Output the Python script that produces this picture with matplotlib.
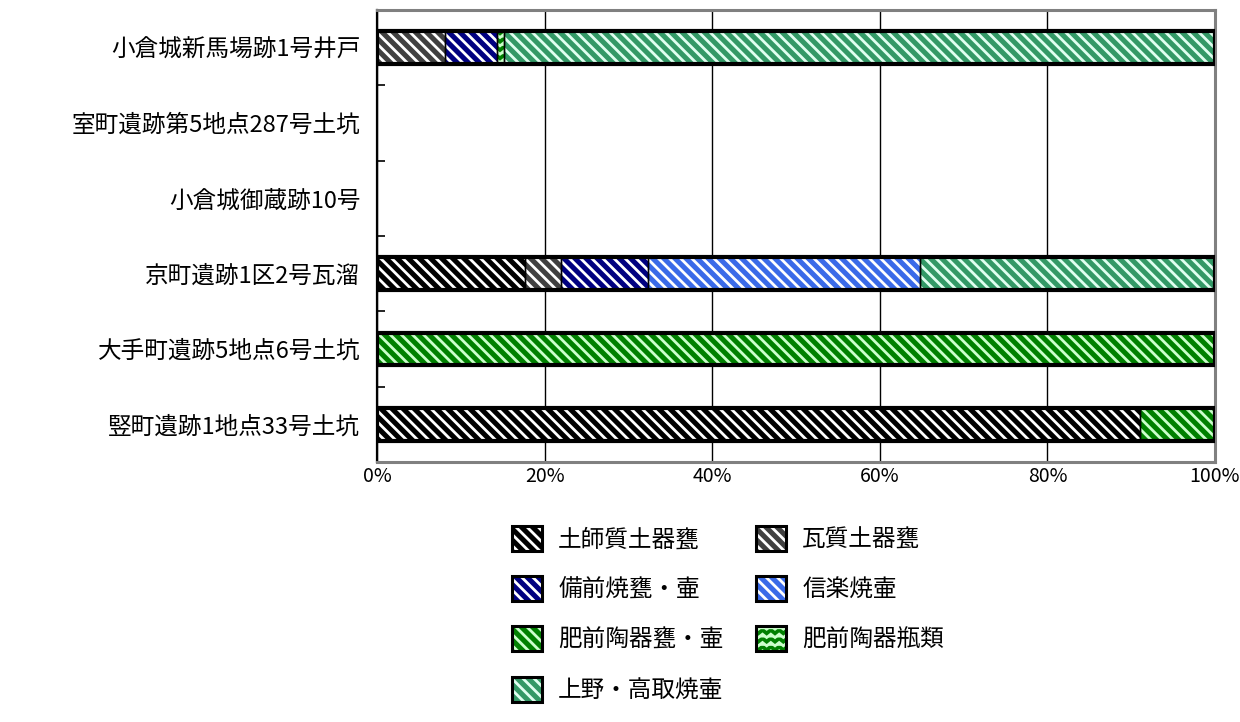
import numpy as np
import matplotlib
matplotlib.use('Agg')
import matplotlib.pyplot as plt
import matplotlib.hatch as mhatch
from matplotlib.path import Path
from matplotlib.patches import Patch
from matplotlib.legend_handler import HandlerTuple
import warnings

warnings.filterwarnings('ignore')

# データ（％）
sites = ['小倉城新馬場跡1号井戸', '室町遺跡第5地点287号土坑', '小倉城御蔵跡10号',
         '京町遺跡1区2号瓦溜', '大手町遺跡5地点6号土坑', '竪町遺跡1地点33号土坑']
categories = ['土師質土器甕', '瓦質土器甕', '備前焼甕・壷', '信楽焼壷',
              '肥前陶器甕・壷', '肥前陶器瓶類', '上野・高取焼壷']
hajishitsu = [0, 0, 0, 17.7, 0, 91.1]
gashitsu = [8.1, 0, 0, 4.2, 0, 0]
bizen = [6.2, 0, 0, 10.4, 0, 0]
shigaraki = [0, 0, 0, 32.5, 0, 0]
hizen_kame = [0, 0, 0, 0, 100, 8.9]
hizen_bin = [0.8, 0, 0, 0, 0, 0]
agano = [84.9, 0, 0, 35.2, 0, 0]
series = [hajishitsu, gashitsu, bizen, shigaraki, hizen_kame, hizen_bin, agano]

face_colors = ['#000000', '#404040', '#000080', '#3a6ae8', '#008000', '#008000', '#339966']
hatch_colors = ['#ffffff', '#ffffff', '#ffffff', '#ffffff', '#ccffcc', '#ccffcc', '#e0fff0']
diag = '\\' * 3
hatches = [diag, diag, diag, diag, diag, '~~', diag]


# 波線ハッチ（肥前陶器瓶類用）
class WaveHatch(mhatch.HatchPatternBase):
    def __init__(self, hatch, density):
        self.num_rows = int(hatch.count('~') * density)
        self.teeth = max(self.num_rows, 1)
        self.per_row = 2 * self.teeth + 1
        self.num_vertices = self.num_rows * self.per_row

    def set_vertices_and_codes(self, vertices, codes):
        steps, stepsize = np.linspace(0.0, 1.0, self.num_rows, False, retstep=True)
        steps += stepsize / 2.
        xs = np.linspace(0.0, 1.0, self.per_row)
        amp = np.where(np.arange(self.per_row) % 2 == 1, stepsize * 0.4, 0.0)
        for i, yy in enumerate(steps):
            s = i * self.per_row
            vertices[s:s + self.per_row, 0] = xs
            vertices[s:s + self.per_row, 1] = yy + amp
            codes[s] = Path.MOVETO
            codes[s + 1:s + self.per_row] = Path.LINETO


mhatch._hatch_types.append(WaveHatch)

plt.rcParams['font.family'] = ['Noto Sans CJK JP', 'DejaVu Sans']
plt.rcParams['hatch.linewidth'] = 2.0

fig = plt.figure(figsize=(12.4, 7.22), dpi=100)
ax = fig.add_axes([377 / 1240, 1 - 462 / 722, 838 / 1240, 452 / 722])

y = np.arange(len(sites))
bar_h = 0.43
left = np.zeros(len(sites))
for vals, fc, hc, h in zip(series, face_colors, hatch_colors, hatches):
    vals = np.array(vals, dtype=float)
    m = vals > 0
    ax.barh(y[m], vals[m], left=left[m], height=bar_h, color=fc, edgecolor=hc,
            linewidth=0, hatch=h, zorder=3)
    ax.barh(y[m], vals[m], left=left[m], height=bar_h, fill=False, edgecolor='black',
            linewidth=1.0, zorder=4)
    left += vals

# 外枠
totals = np.sum(series, axis=0)
m = totals > 0
ax.barh(y[m], totals[m], height=bar_h, fill=False, edgecolor='black', linewidth=3, zorder=5)

ax.set_xlim(0, 100)
ax.set_ylim(len(sites) - 0.5, -0.5)
ax.set_xticks([0, 20, 40, 60, 80, 100])
ax.set_xticklabels(['0%', '20%', '40%', '60%', '80%', '100%'], fontsize=14)
ax.set_yticks(y)
ax.set_yticklabels(sites, fontsize=17)
ax.set_yticks(np.arange(0.5, len(sites) - 1, 1), minor=True)
ax.tick_params(axis='y', which='major', length=0, pad=12)
ax.tick_params(axis='y', which='minor', direction='in', length=6, width=1.2, color='black')
ax.tick_params(axis='x', length=0, pad=3)
ax.grid(axis='x', color='black', linewidth=1.0, zorder=0)
for side in ['top', 'right', 'bottom']:
    ax.spines[side].set_color('#808080')
    ax.spines[side].set_linewidth(2.2)
ax.spines['left'].set_color('black')
ax.spines['left'].set_linewidth(1.6)

# 凡例（行優先の並び）
handles = []
for fc, hc, h in zip(face_colors, hatch_colors, hatches):
    fill = Patch(facecolor=fc, edgecolor=hc, linewidth=0, hatch=h)
    border = Patch(fill=False, edgecolor='black', linewidth=2.2)
    handles.append((fill, border))
order = [0, 2, 4, 6, 1, 3, 5]
fig.legend([handles[i] for i in order], [categories[i] for i in order],
           handler_map={tuple: HandlerTuple(ndivide=1, pad=0)},
           loc='upper left', bbox_to_anchor=(512 / 1240, 1 - 526 / 722),
           ncol=2, frameon=False, fontsize=17, borderpad=0, borderaxespad=0,
           handlelength=1.25, handleheight=1.25, handletextpad=0.7,
           labelspacing=1.05, columnspacing=1.4)

fig.savefig('out.png', dpi=100)
